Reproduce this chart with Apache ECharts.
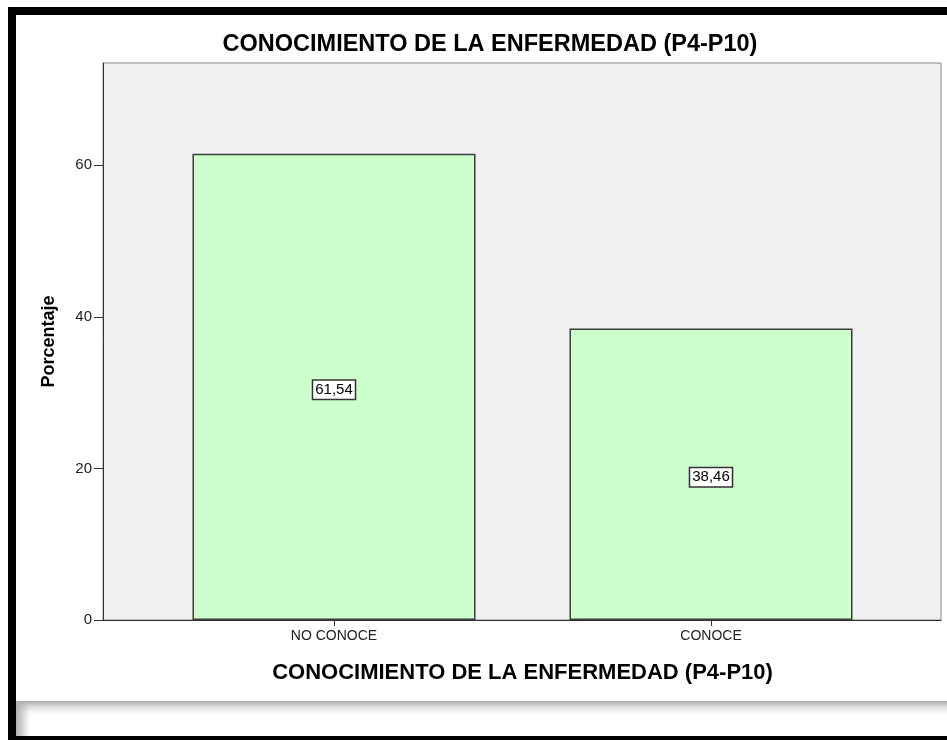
<!DOCTYPE html>
<html>
<head>
<meta charset="utf-8">
<script src="https://cdn.jsdelivr.net/npm/echarts@6/dist/echarts.min.js"></script>
<style>
  html, body { margin: 0; padding: 0; background: #ffffff; }
  #wrap { position: relative; width: 947px; height: 740px; overflow: hidden; background: #fff; }
  #chart { position: absolute; left: 0; top: 0; width: 947px; height: 740px; }
  .frame { position: absolute; background: #000; pointer-events: none; }
  #shadow { position: absolute; left: 16px; top: 701px; width: 931px; height: 35px; pointer-events: none;
    background: linear-gradient(to bottom, #a8a8a8 0px, #d8d8d8 5px, #f4f4f4 10px, #ffffff 14px, #ffffff 35px); }
  #shadowL { position: absolute; left: 16px; top: 701px; width: 14px; height: 35px; pointer-events: none;
    background: linear-gradient(to right, #b0b0b0, rgba(255,255,255,0)); }
</style>
</head>
<body>
<div id="wrap">
  <div id="chart"></div>
  <div id="shadow"></div>
  <div id="shadowL"></div>
  <div class="frame" style="left:8px;top:7px;width:939px;height:8px;"></div>
  <div class="frame" style="left:8px;top:7px;width:8px;height:733px;"></div>
  <div class="frame" style="left:8px;top:736px;width:939px;height:4px;"></div>
</div>
<script>
const titleText = 'CONOCIMIENTO DE LA ENFERMEDAD (P4-P10)';
const categories = ['NO CONOCE', 'CONOCE'];
const values = [61.54, 38.46];
const yTicks = [0, 20, 40, 60];
const yAxisName = 'Porcentaje';
const xAxisName = 'CONOCIMIENTO DE LA ENFERMEDAD (P4-P10)';

const chart = echarts.init(document.getElementById('chart'));
const FONT = 'Liberation Sans, Arial, sans-serif';
const YMAX = 73.5;

chart.setOption({
  animation: false,
  backgroundColor: '#ffffff',
  title: {
    text: titleText,
    left: 485,
    top: 28,
    textAlign: 'center',
    textStyle: { fontFamily: FONT, fontSize: 23.5, fontWeight: 'bold', color: '#000' }
  },
  grid: [
    { left: 103, top: 63, width: 838, height: 557, show: true, backgroundColor: '#f0f0f0', borderColor: '#8a8a8a', borderWidth: 1 },
    { left: 145.5, top: 63, width: 754, height: 557 }
  ],
  xAxis: [
    {
      gridIndex: 0, type: 'value', min: 0, max: 1,
      axisLine: { show: true, lineStyle: { color: '#333', width: 1 } },
      axisTick: { show: false }, axisLabel: { show: false }, splitLine: { show: false }
    },
    {
      gridIndex: 1, type: 'category', data: categories,
      axisLine: { show: false },
      axisTick: { show: true, alignWithLabel: true, length: 6, lineStyle: { color: '#333' } },
      axisLabel: { fontFamily: FONT, fontSize: 14, color: '#222', margin: 9 },
      name: xAxisName, nameLocation: 'middle', nameGap: 42,
      nameTextStyle: { fontFamily: FONT, fontSize: 22, fontWeight: 'bold', color: '#000' }
    }
  ],
  yAxis: [
    {
      gridIndex: 0, type: 'value', min: 0, max: YMAX, interval: 20,
      axisLine: { show: true, lineStyle: { color: '#333', width: 1 } },
      axisTick: { show: true, length: 9, customValues: yTicks, lineStyle: { color: '#333' } },
      axisLabel: { fontFamily: FONT, fontSize: 15, color: '#222', margin: 11, customValues: yTicks },
      splitLine: { show: false },
      name: yAxisName, nameLocation: 'middle', nameGap: 45, nameRotate: 90,
      nameTextStyle: { fontFamily: FONT, fontSize: 18, fontWeight: 'bold', color: '#000' }
    },
    {
      gridIndex: 1, type: 'value', min: 0, max: YMAX, interval: 20, show: false
    }
  ],
  series: [
    {
      type: 'bar',
      xAxisIndex: 1, yAxisIndex: 1,
      data: values,
      barWidth: 283,
      itemStyle: { color: '#ccffcc', borderColor: '#3c3c3c', borderWidth: 1.5 },
      label: {
        show: true, position: 'inside', offset: [0, 3],
        formatter: p => p.value.toFixed(2).replace('.', ','),
        fontFamily: FONT, fontSize: 15, color: '#000',
        backgroundColor: '#ffffff', borderColor: '#333', borderWidth: 1.5,
        padding: [2, 2, 1, 2]
      }
    }
  ]
});
</script>
</body>
</html>
